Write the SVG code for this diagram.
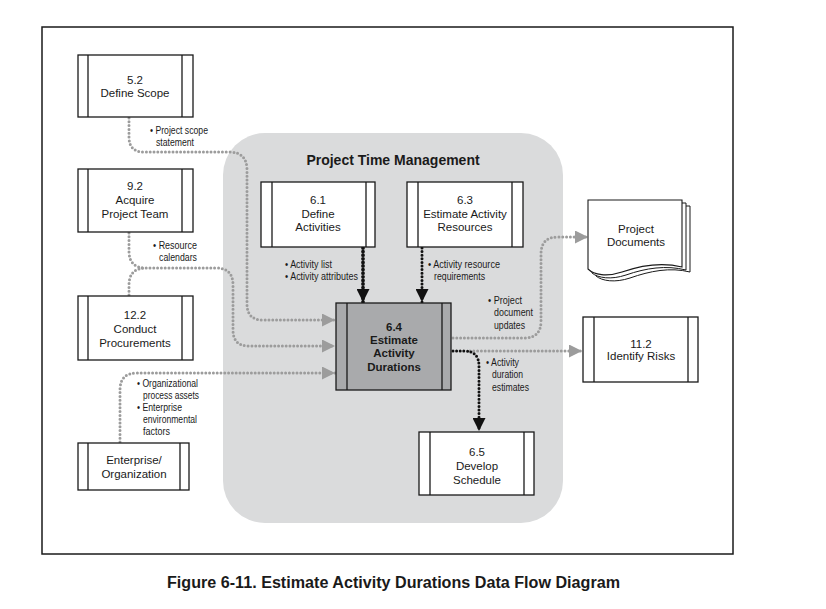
<svg xmlns="http://www.w3.org/2000/svg" width="826" height="609" viewBox="0 0 826 609">
<style>
.frame{fill:none;stroke:#1a1a1a;stroke-width:1.5}
.box{fill:#fff;stroke:#1a1a1a;stroke-width:1.3}
.box64{fill:#a9aaac;stroke:#1a1a1a;stroke-width:1.3}
.bar{stroke:#1a1a1a;stroke-width:1.3}
.nt{font-family:"Liberation Sans",Arial,sans-serif;font-size:11.5px;fill:#1a1a1a;text-anchor:middle}
.nb{font-family:"Liberation Sans",Arial,sans-serif;font-size:11.5px;font-weight:bold;fill:#1a1a1a;text-anchor:middle}
.lb{font-family:"Liberation Sans",Arial,sans-serif;font-size:10.5px;fill:#1a1a1a}
.gd{fill:none;stroke:#9c9c9c;stroke-width:3;stroke-linecap:round;stroke-dasharray:0 3.8}
.bd{fill:none;stroke:#111;stroke-width:3;stroke-linecap:round;stroke-dasharray:0 3.6}
.bdt{fill:none;stroke:#111;stroke-width:3.8;stroke-linecap:round;stroke-dasharray:0 3.6}
</style>
<defs>
<marker id="ag" markerUnits="userSpaceOnUse" markerWidth="13" markerHeight="13" refX="13" refY="6.5" orient="auto"><path d="M0,0 L13,6.5 L0,13 Z" fill="#9c9c9c"/></marker>
<marker id="ab" markerUnits="userSpaceOnUse" markerWidth="13" markerHeight="13" refX="13" refY="6.5" orient="auto"><path d="M0,0 L13,6.5 L0,13 Z" fill="#111"/></marker>
</defs>
<rect width="826" height="609" fill="#fff"/>
<rect class="frame" x="42" y="27" width="691" height="527"/>
<g id="ptm">
<rect x="223" y="133" width="340" height="390" rx="42" ry="42" fill="#dadbdc"/>
<text x="393" y="165" font-family="'Liberation Sans',Arial,sans-serif" font-size="14" font-weight="bold" fill="#1a1a1a" text-anchor="middle">Project Time Management</text>
</g>
<g id="connectors">
<path class="gd" d="M129,118 L129,137 Q129,152 144,152 L229,152 Q247,152 247,170 L247,304 Q247,320 263,320 L335,320" marker-end="url(#ag)"/>
<path class="gd" d="M129,233 L129,251 Q129,268 146,268 L216,268 Q233,268 233,285 L233,330 Q233,346 249,346 L335,346" marker-end="url(#ag)"/>
<path class="gd" d="M129,295 L129,285 Q129,268 146,268"/>
<path class="gd" d="M120,442 L120,390 Q120,373 137,373 L335,373" marker-end="url(#ag)"/>
<path class="bdt" d="M363,248 L363,302" marker-end="url(#ab)"/>
<path class="bd" d="M422,248 L422,302" marker-end="url(#ab)"/>
<path class="gd" d="M453,338 L524,338 Q541,338 541,321 L541,254 Q541,237 558,237 L588,237" marker-end="url(#ag)"/>
<path class="gd" d="M470,351 L582,351" marker-end="url(#ag)"/>
<path class="bd" d="M453,351 L464,351 Q479,351 479,366 L479,431" marker-end="url(#ab)"/>
</g>
<g id="labels">
<text class="lb" x="150" y="134" textLength="58" lengthAdjust="spacingAndGlyphs">• Project scope</text>
<text class="lb" x="156" y="146" textLength="38" lengthAdjust="spacingAndGlyphs">statement</text>
<text class="lb" x="153" y="249" textLength="44" lengthAdjust="spacingAndGlyphs">• Resource</text>
<text class="lb" x="159" y="261" textLength="38" lengthAdjust="spacingAndGlyphs">calendars</text>
<text class="lb" x="285" y="268" textLength="47" lengthAdjust="spacingAndGlyphs">• Activity list</text>
<text class="lb" x="285" y="280" textLength="73" lengthAdjust="spacingAndGlyphs">• Activity attributes</text>
<text class="lb" x="428" y="268" textLength="72" lengthAdjust="spacingAndGlyphs">• Activity resource</text>
<text class="lb" x="434" y="280" textLength="51" lengthAdjust="spacingAndGlyphs">requirements</text>
<text class="lb" x="137" y="387" textLength="61" lengthAdjust="spacingAndGlyphs">• Organizational</text>
<text class="lb" x="143" y="399" textLength="56" lengthAdjust="spacingAndGlyphs">process assets</text>
<text class="lb" x="137" y="411" textLength="45" lengthAdjust="spacingAndGlyphs">• Enterprise</text>
<text class="lb" x="143" y="423" textLength="54" lengthAdjust="spacingAndGlyphs">environmental</text>
<text class="lb" x="143" y="435" textLength="27" lengthAdjust="spacingAndGlyphs">factors</text>
<text class="lb" x="488" y="304" textLength="34" lengthAdjust="spacingAndGlyphs">• Project</text>
<text class="lb" x="494" y="316" textLength="39" lengthAdjust="spacingAndGlyphs">document</text>
<text class="lb" x="494" y="329" textLength="31" lengthAdjust="spacingAndGlyphs">updates</text>
<text class="lb" x="486" y="366" textLength="33" lengthAdjust="spacingAndGlyphs">• Activity</text>
<text class="lb" x="492" y="378" textLength="31" lengthAdjust="spacingAndGlyphs">duration</text>
<text class="lb" x="492" y="391" textLength="37" lengthAdjust="spacingAndGlyphs">estimates</text>
</g>
<g id="n52">
<rect class="box" x="78" y="55" width="115" height="62"/>
<line class="bar" x1="88" y1="55" x2="88" y2="117"/><line class="bar" x1="182" y1="55" x2="182" y2="117"/>
<text class="nt" x="135" y="84">5.2</text><text class="nt" x="135" y="97">Define Scope</text>
</g>
<g id="n92">
<rect class="box" x="78" y="169" width="115" height="63"/>
<line class="bar" x1="88" y1="169" x2="88" y2="232"/><line class="bar" x1="182" y1="169" x2="182" y2="232"/>
<text class="nt" x="135" y="190">9.2</text><text class="nt" x="135" y="204">Acquire</text><text class="nt" x="135" y="218">Project Team</text>
</g>
<g id="n122">
<rect class="box" x="78" y="296" width="115" height="64"/>
<line class="bar" x1="88" y1="296" x2="88" y2="360"/><line class="bar" x1="182" y1="296" x2="182" y2="360"/>
<text class="nt" x="135" y="319">12.2</text><text class="nt" x="135" y="333">Conduct</text><text class="nt" x="135" y="347">Procurements</text>
</g>
<g id="nent">
<rect class="box" x="78" y="443" width="111" height="47"/>
<line class="bar" x1="88" y1="443" x2="88" y2="490"/><line class="bar" x1="180" y1="443" x2="180" y2="490"/>
<text class="nt" x="134" y="464">Enterprise/</text><text class="nt" x="134" y="478">Organization</text>
</g>
<g id="n61">
<rect class="box" x="261" y="182" width="114" height="65"/>
<line class="bar" x1="272" y1="182" x2="272" y2="247"/><line class="bar" x1="366" y1="182" x2="366" y2="247"/>
<text class="nt" x="318" y="204">6.1</text><text class="nt" x="318" y="218">Define</text><text class="nt" x="318" y="231">Activities</text>
</g>
<g id="n63">
<rect class="box" x="407" y="182" width="116" height="65"/>
<line class="bar" x1="418" y1="182" x2="418" y2="247"/><line class="bar" x1="512" y1="182" x2="512" y2="247"/>
<text class="nt" x="465" y="204">6.3</text><text class="nt" x="465" y="218">Estimate Activity</text><text class="nt" x="465" y="231">Resources</text>
</g>
<g id="n64">
<rect class="box64" x="336" y="303" width="115" height="87"/>
<line class="bar" x1="347" y1="303" x2="347" y2="390"/><line class="bar" x1="442" y1="303" x2="442" y2="390"/>
<text class="nb" x="394" y="331">6.4</text><text class="nb" x="394" y="344">Estimate</text><text class="nb" x="394" y="357">Activity</text><text class="nb" x="394" y="371">Durations</text>
</g>
<g id="n65">
<rect class="box" x="419" y="432" width="115" height="63"/>
<line class="bar" x1="430" y1="432" x2="430" y2="495"/><line class="bar" x1="524" y1="432" x2="524" y2="495"/>
<text class="nt" x="477" y="456">6.5</text><text class="nt" x="477" y="470">Develop</text><text class="nt" x="477" y="484">Schedule</text>
</g>
<g id="n112">
<rect class="box" x="583" y="317" width="115" height="65"/>
<line class="bar" x1="594" y1="317" x2="594" y2="382"/><line class="bar" x1="688" y1="317" x2="688" y2="382"/>
<text class="nt" x="641" y="348">11.2</text><text class="nt" x="641" y="360">Identify Risks</text>
</g>
<g id="ndocs">
<path d="M596,206 L690,206 L690,272 C670,267 650,271 630,278 C615,283 602,281 596,276 Z" fill="#fff" stroke="#1a1a1a" stroke-width="1"/>
<path d="M592,203 L686,203 L686,270 C666,265 646,268 626,275 C611,280 598,278 592,273 Z" fill="#fff" stroke="#1a1a1a" stroke-width="1"/>
<path d="M588,200 L682,200 L682,267 C662,262 642,265 622,272 C607,277 594,275 588,269 Z" fill="#fff" stroke="#1a1a1a" stroke-width="1.1"/>
<text class="nt" x="636" y="233">Project</text><text class="nt" x="636" y="246">Documents</text>
</g>
<text x="167" y="588" font-family="'Liberation Sans',Arial,sans-serif" font-size="16" font-weight="bold" fill="#1a1a1a" textLength="453" lengthAdjust="spacingAndGlyphs">Figure 6-11. Estimate Activity Durations Data Flow Diagram</text>
</svg>
